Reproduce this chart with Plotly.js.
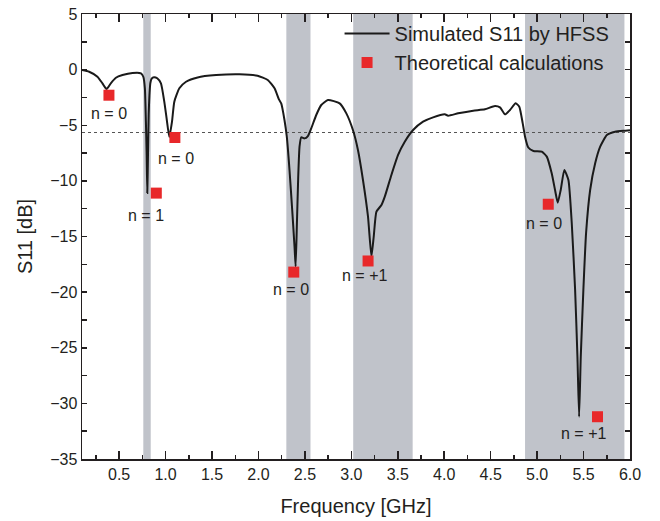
<!DOCTYPE html>
<html>
<head>
<meta charset="utf-8">
<script src="https://cdn.plot.ly/plotly-3.0.1.min.js"></script>
<style>html,body{margin:0;padding:0;background:#fff}#chart{width:660px;height:521px}</style>
</head>
<body>
<div id="chart"></div>
<script>
// Simulated S11 by HFSS (frequency in GHz, S11 in dB)
const simFreq = [0.10, 0.177, 0.266, 0.32, 0.364, 0.41, 0.465, 0.536, 0.644, 0.735, 0.76, 0.777, 0.788, 0.796, 0.803, 0.811, 0.818, 0.826, 0.836, 0.85, 0.875, 0.91, 0.95, 0.986, 1.011, 1.04, 1.069, 1.094, 1.148, 1.22, 1.345, 1.544, 1.795, 1.99, 2.1, 2.173, 2.22, 2.245, 2.28, 2.305, 2.334, 2.363, 2.388, 2.4, 2.413, 2.428, 2.442, 2.46, 2.496, 2.532, 2.568, 2.622, 2.676, 2.748, 2.874, 2.946, 3.017, 3.071, 3.125, 3.179, 3.216, 3.241, 3.27, 3.324, 3.36, 3.431, 3.503, 3.575, 3.665, 3.772, 3.88, 4.006, 4.042, 4.15, 4.312, 4.438, 4.546, 4.6, 4.654, 4.708, 4.769, 4.808, 4.845, 4.87, 4.905, 4.96, 5.05, 5.104, 5.157, 5.193, 5.222, 5.254, 5.293, 5.337, 5.373, 5.409, 5.434, 5.452, 5.47, 5.498, 5.527, 5.571, 5.625, 5.679, 5.751, 5.84, 5.948, 6.0];
const simS11 = [-0.04, -0.19, -0.64, -1.23, -1.75, -1.23, -0.73, -0.49, -0.30, -0.33, -0.64, -1.68, -4.68, -7.7, -11.1, -7.4, -4.0, -2.3, -1.2, -0.8, -0.68, -0.78, -1.23, -2.88, -4.38, -6.05, -4.68, -2.88, -1.68, -1.09, -0.70, -0.49, -0.42, -0.55, -0.93, -1.68, -2.67, -3.03, -4.53, -6.03, -9.02, -12.6, -15.9, -17.7, -14.1, -9.62, -6.93, -6.08, -6.18, -5.97, -5.28, -4.08, -3.18, -2.73, -3.03, -3.93, -5.43, -7.22, -9.92, -13.2, -16.8, -15.0, -12.77, -12.17, -11.42, -9.47, -7.67, -6.48, -5.43, -4.68, -4.29, -4.02, -4.14, -3.93, -3.69, -3.57, -3.27, -3.39, -4.02, -3.63, -3.03, -3.33, -4.83, -6.03, -7.0, -7.31, -7.37, -7.82, -9.32, -10.82, -11.96, -10.82, -9.02, -9.92, -13.81, -19.8, -25.8, -31.2, -25.8, -19.8, -14.7, -10.82, -8.42, -6.93, -5.88, -5.58, -5.49, -5.45];

// Theoretical calculations
const theoFreq = [0.39, 0.90, 1.10, 2.38, 3.18, 5.12, 5.65];
const theoS11 = [-2.3, -11.1, -6.1, -18.2, -17.2, -12.1, -31.2];

// Mode labels
const labelText = ["n = 0", "n = 1", "n = 0", "n = 0", "n = +1", "n = 0", "n = +1"];
const labelFreq = [0.39, 0.79, 1.11, 2.35, 3.14, 5.07, 5.50];
const labelS11 = [-3.9, -13.1, -7.95, -19.8, -18.5, -13.85, -32.75];

// Shaded bands (GHz)
const bandStart = [0.76, 2.30, 3.02, 4.87];
const bandEnd = [0.84, 2.56, 3.66, 5.94];

// reference level (dotted)
const refLevel = -5.65;
const xRange = [0.1, 6.0];
const yRange = [-35, 5];

const traces = [
  {x: simFreq, y: simS11, type: 'scatter', mode: 'lines', name: 'Simulated S11 by HFSS',
   line: {color: '#1a1a1a', width: 2, shape: 'spline', smoothing: 0.5}},
  {x: theoFreq, y: theoS11, type: 'scatter', mode: 'markers', name: 'Theoretical calculations',
   marker: {symbol: 'square', size: 11, color: '#e8282a'}}
];

const shapes = bandStart.map((s, i) => ({
  type: 'rect', xref: 'x', yref: 'paper', x0: s, x1: bandEnd[i], y0: 0, y1: 1,
  fillcolor: '#c0c3ca', line: {width: 0}, layer: 'below'
}));
shapes.push({type: 'line', xref: 'x', yref: 'y', x0: xRange[0], x1: xRange[1], y0: refLevel, y1: refLevel,
  line: {color: '#555', width: 1.2, dash: 'dot'}, layer: 'below'});

const annotations = labelText.map((t, i) => ({
  x: labelFreq[i], y: labelS11[i], xref: 'x', yref: 'y', text: t, showarrow: false,
  font: {size: 16, color: '#231f20'}
}));

const font = {family: '"Liberation Sans", Arial, sans-serif', color: '#231f20'};

const layout = {
  width: 660, height: 521,
  margin: {l: 82, r: 30, t: 14, b: 62},
  paper_bgcolor: '#fff', plot_bgcolor: 'rgba(0,0,0,0)',
  font: font,
  showlegend: true,
  legend: {x: 0.47, y: 1.0, xanchor: 'left', yanchor: 'top', bgcolor: 'rgba(0,0,0,0)',
    font: {size: 20, color: '#231f20'}, itemwidth: 45, tracegroupgap: 0},
  xaxis: {
    range: xRange, showgrid: false, zeroline: false,
    showline: true, linecolor: '#231f20', linewidth: 1.5, mirror: 'ticks',
    ticks: 'inside', ticklen: 8, tickwidth: 1.5, tickcolor: '#231f20',
    tick0: 0, dtick: 0.5, tickformat: '.1f',
    minor: {ticks: 'inside', ticklen: 4, tickwidth: 1.5, dtick: 0.25, tick0: 0, tickcolor: '#231f20'},
    tickfont: {size: 16},
    title: {text: 'Frequency [GHz]', font: {size: 20}, standoff: 17}
  },
  yaxis: {
    range: yRange, showgrid: false, zeroline: false,
    showline: true, linecolor: '#231f20', linewidth: 1.5, mirror: 'ticks',
    ticks: 'inside', ticklen: 5, tickwidth: 1.5, tickcolor: '#231f20',
    tick0: 0, dtick: 5,
    minor: {ticks: 'inside', ticklen: 5, tickwidth: 1.5, dtick: 2.5, tick0: 0, tickcolor: '#231f20'},
    tickfont: {size: 16},
    title: {text: 'S11 [dB]', font: {size: 20}, standoff: 12}
  },
  shapes: shapes,
  annotations: annotations
};

Plotly.newPlot('chart', traces, layout, {displayModeBar: false, staticPlot: true});
</script>
</body>
</html>
